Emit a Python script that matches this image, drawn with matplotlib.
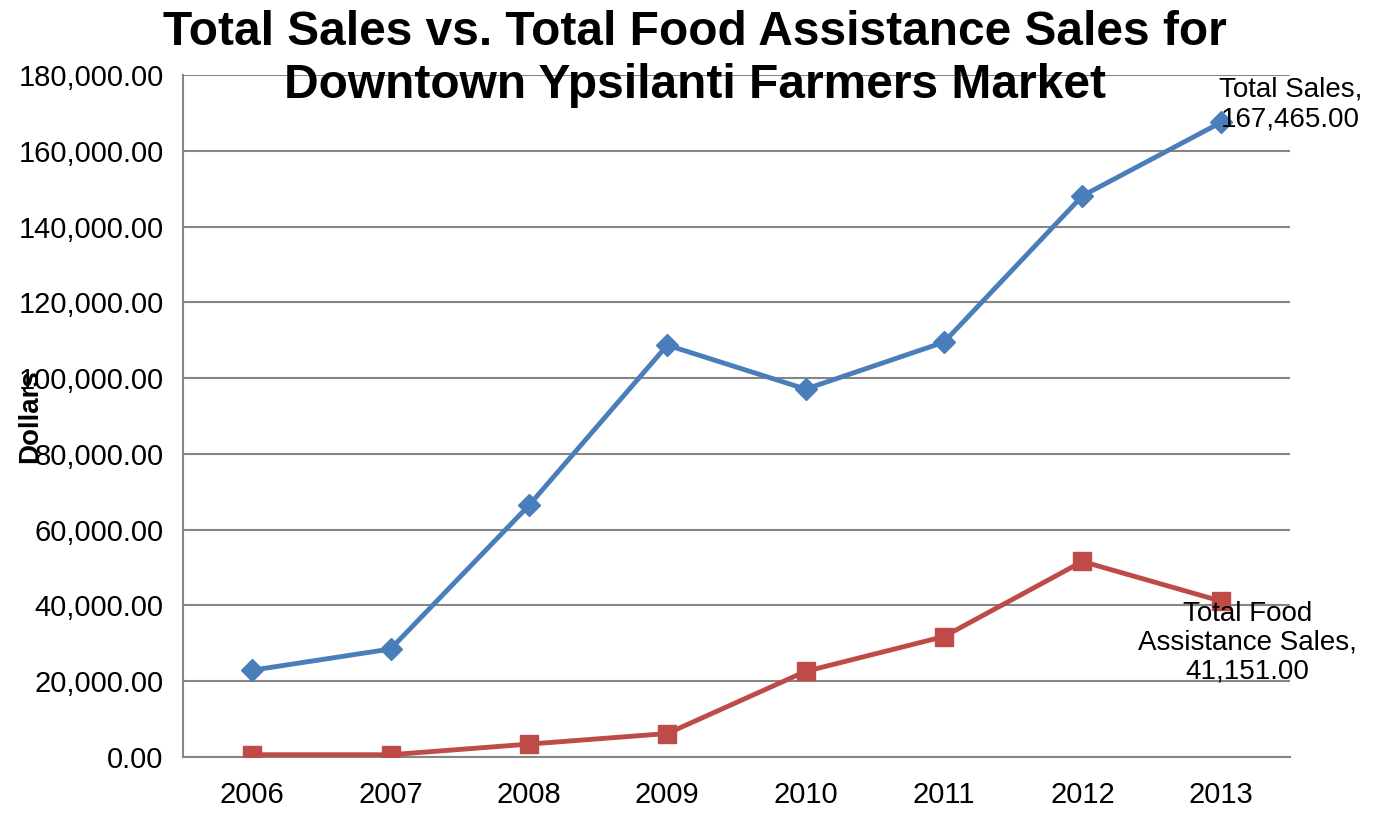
import matplotlib
matplotlib.use("Agg")
import matplotlib.pyplot as plt

years = ["2006", "2007", "2008", "2009", "2010", "2011", "2012", "2013"]
total_sales = [22900, 28500, 66400, 108700, 97100, 109500, 148100, 167465]
food_assist = [600, 600, 3400, 6200, 22600, 31800, 51600, 41151]
yticks = [0, 20000, 40000, 60000, 80000, 100000, 120000, 140000, 160000, 180000]

plt.rcParams['font.family'] = ['Liberation Sans', 'DejaVu Sans']

fig = plt.figure(figsize=(13.83, 8.15), dpi=100)
ax = fig.add_axes([183/1383, 1-757/815, (1290-183)/1383, (757-75)/815])

x = list(range(len(years)))
blue = "#4A7EBB"
red = "#BE4B48"
ax.plot(x, total_sales, color=blue, lw=3.5, marker="D", ms=11, zorder=3)
ax.plot(x, food_assist, color=red, lw=3.5, marker="s", ms=13, zorder=3)

ax.set_xlim(-0.5, len(years) - 0.5)
ax.set_ylim(0, 180000)
ax.set_xticks(x)
ax.set_xticklabels(years)
ax.set_yticks(yticks)
ax.set_yticklabels([f"{v:,.2f}" for v in yticks])
ax.tick_params(axis="both", length=0, labelsize=21)
ax.tick_params(axis="x", pad=17)
ax.tick_params(axis="y", pad=14)
ax.grid(axis="y", color="#868686", lw=1.5)
ax.set_axisbelow(True)
for s in ["top", "right"]:
    ax.spines[s].set_visible(False)
for s in ["left", "bottom"]:
    ax.spines[s].set_color("#868686")
    ax.spines[s].set_linewidth(1.5)

fig.text(30/1383, 1-416/815, "Dollars", rotation=90, fontsize=20, fontweight="bold",
         ha="center", va="center")
fig.text(695/1383, 1-59/815, "Total Sales vs. Total Food Assistance Sales for\nDowntown Ypsilanti Farmers Market",
         fontsize=34.5, fontweight="bold", ha="center", va="center", linespacing=1.25)

ax.annotate(f"Total Sales,\n{total_sales[-1]:,.2f}", xy=(x[-1], total_sales[-1]),
            xytext=(50, 13), textcoords="offset points", ha="center", va="center",
            fontsize=20, linespacing=1.2)
ax.annotate(f"Total Food\nAssistance Sales,\n{food_assist[-1]:,.2f}", xy=(x[-1], food_assist[-1]),
            xytext=(19, -30), textcoords="offset points", ha="center", va="center",
            fontsize=20, linespacing=1.15)

fig.savefig("out.png", dpi=100)
